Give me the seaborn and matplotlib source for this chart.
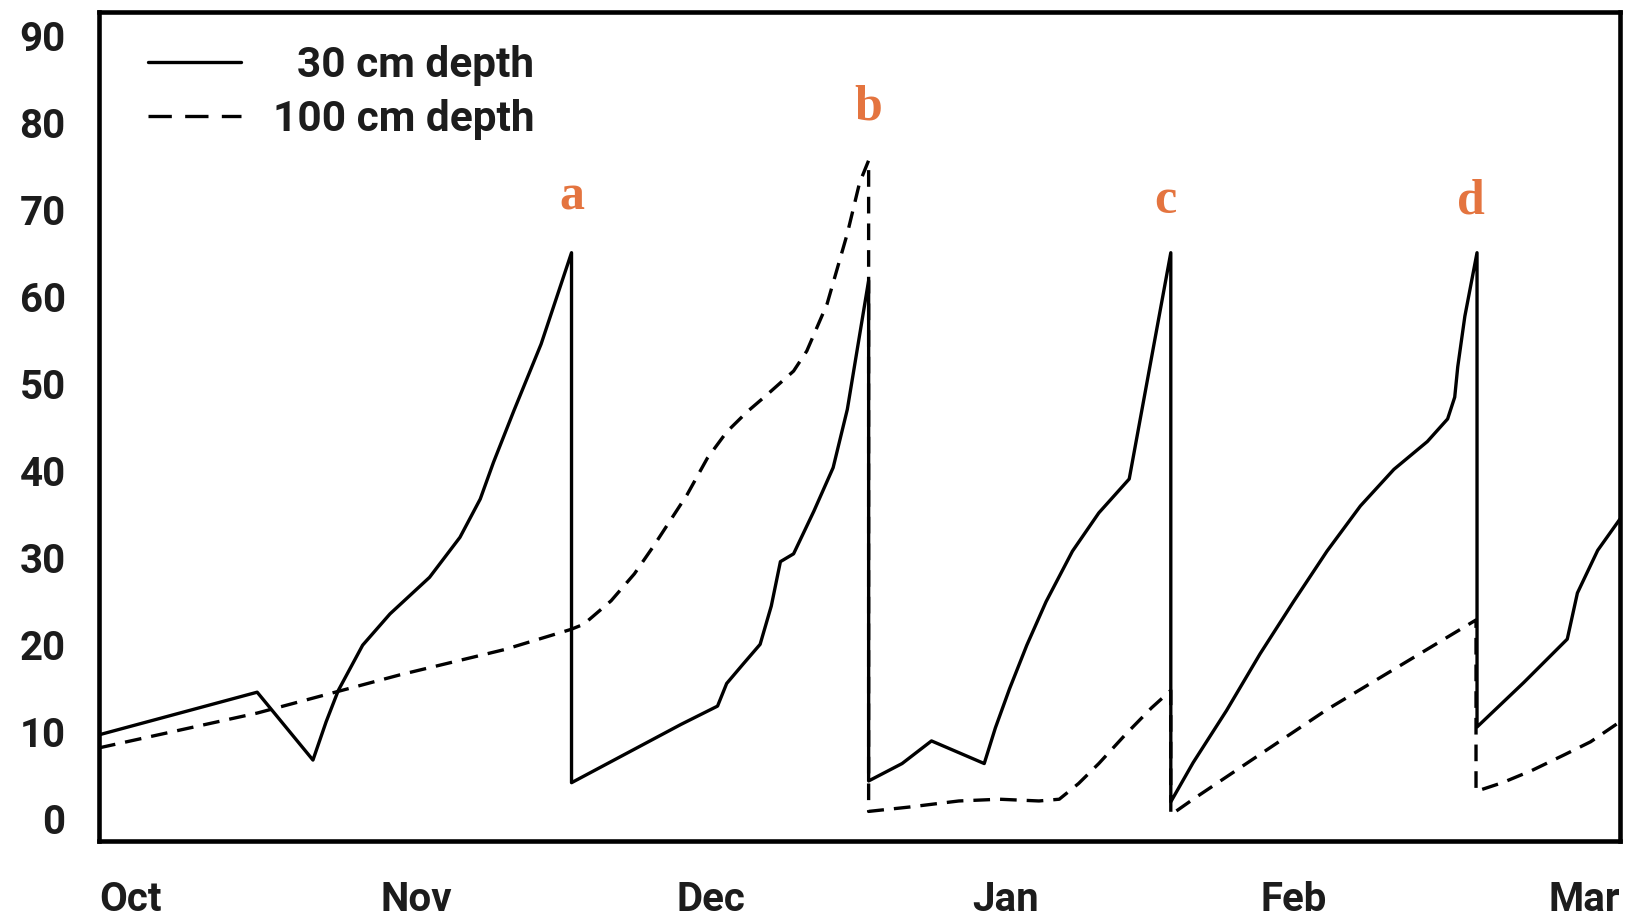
import numpy as np
import pandas as pd
import matplotlib
matplotlib.use("Agg")
import matplotlib.pyplot as plt
from matplotlib.lines import Line2D
import seaborn as sns

# ---------------- data ----------------
series_labels = ["30 cm depth", "100 cm depth"]

x_30 = [0, 15.6, 21.1, 22.4, 23.6, 26.0, 28.7, 32.6, 35.6, 37.6, 38.9, 40.9, 43.6, 46.6,
        46.6, 57.4, 61.0, 61.9, 63.5, 65.2, 66.3, 67.2, 68.5, 70.5, 72.4, 73.8, 75.9,
        75.9, 79.2, 82.1, 84.5, 87.3, 88.4, 89.8, 91.5, 93.4, 96.0, 98.6, 101.6, 105.7,
        105.7, 107.9, 111.2, 114.5, 117.8, 121.1, 124.4, 127.7, 131.0, 133.0, 133.7,
        134.0, 134.7, 135.9,
        135.9, 140.5, 144.8, 145.8, 147.8, 150]
y_30 = [9.7, 14.6, 6.8, 11.2, 14.8, 20.0, 23.6, 27.8, 32.4, 36.8, 41.0, 46.9, 54.6, 65.1,
        4.2, 10.9, 13.0, 15.6, 17.8, 20.1, 24.5, 29.6, 30.5, 35.4, 40.4, 47.1, 61.9,
        4.4, 6.4, 9.0, 7.8, 6.4, 10.5, 15.0, 20.0, 25.0, 30.8, 35.2, 39.1, 65.1,
        2.0, 6.5, 12.5, 19.0, 25.0, 30.8, 36.0, 40.2, 43.4, 46.0, 48.5,
        52.0, 57.8, 65.1,
        10.6, 15.7, 20.7, 26.0, 30.9, 34.5]

x_100 = [0, 15.6, 29.7, 40.0, 46.5, 47.8, 50.5, 52.8, 54.7, 58.0, 60.0, 61.9, 63.9,
         65.9, 68.5, 69.8, 71.8, 73.8, 75.0, 75.9,
         75.9, 79.9, 84.8, 88.8, 92.7, 94.7, 96.6, 98.6, 101.2, 103.8, 105.7,
         105.7, 107.9, 121.1, 135.8,
         135.8, 138.4, 141.3, 144.5, 147.1, 150]
y_100 = [8.2, 12.2, 16.6, 19.5, 21.8, 22.4, 25.1, 28.2, 31.4, 37.3, 41.5, 44.5, 46.8,
         48.8, 51.5, 53.8, 59.2, 67.3, 73.1, 75.7,
         0.9, 1.4, 2.1, 2.3, 2.1, 2.3, 4.1, 6.4, 9.7, 12.8, 14.8,
         0.5, 2.3, 12.6, 22.9,
         3.2, 4.2, 5.6, 7.4, 8.9, 11.2]

month_labels = ["Oct", "Nov", "Dec", "Jan", "Feb", "Mar"]
month_pos = [0, 31.3, 60.3, 89.4, 117.8, 150]
y_ticks = [0, 10, 20, 30, 40, 50, 60, 70, 80, 90]

event_labels = ["a", "b", "c", "d"]
event_x = [46.6, 75.9, 105.2, 135.3]
event_y = [71.4, 81.8, 71.0, 71.0]

# ---------------- plot ----------------
sns.set_theme(style="white")
plt.rcParams['font.family'] = ['Roboto', 'DejaVu Sans']

df = pd.concat([
    pd.DataFrame({"x": x_30, "y": y_30, "depth": series_labels[0]}),
    pd.DataFrame({"x": x_100, "y": y_100, "depth": series_labels[1]}),
], ignore_index=True)

fig = plt.figure(figsize=(16.32, 9.19), dpi=100)
ax = fig.add_axes([99 / 1632, 78 / 919, 1521 / 1632, 828.5 / 919])

sns.lineplot(data=df, x="x", y="y", style="depth",
             dashes={series_labels[0]: "", series_labels[1]: (5, 3)},
             color="black", lw=2.4, sort=False, estimator=None,
             legend=False, ax=ax)

ax.set_xlim(0, 150)
ax.set_ylim(-2.5, 92.7)
ax.set_xlabel("")
ax.set_ylabel("")

txt_col = "#1c1c1c"
ax.set_yticks(y_ticks)
ax.set_yticklabels([str(v) for v in y_ticks])
ax.set_xticks(month_pos)
ax.set_xticklabels(month_labels)
for lab in ax.get_xticklabels() + ax.get_yticklabels():
    lab.set_fontsize(29)
    lab.set_fontweight("bold")
    lab.set_color(txt_col)
xl = ax.get_xticklabels()
xl[0].set_ha("left")
xl[-1].set_ha("right")
ax.tick_params(axis="y", length=0, pad=24)
ax.tick_params(axis="x", length=0, pad=29)

for s in ax.spines.values():
    s.set_visible(True)
    s.set_color("black")
    s.set_linewidth(3.3)

for lab, ex, ey in zip(event_labels, event_x, event_y):
    ax.text(ex, ey, lab, ha="center", va="center", color="#e4743f",
            fontsize=36, family="Liberation Serif", fontweight="bold")

handles = [Line2D([], [], color="black", lw=2.4),
           Line2D([], [], color="black", lw=2.4, dashes=(7, 4))]
leg = ax.legend(handles, ["\u2007" + series_labels[0], series_labels[1]],
                loc="upper left", bbox_to_anchor=(148 / 1632, 1 - 45 / 919),
                bbox_transform=fig.transFigure, frameon=False,
                prop={"family": ["Roboto", "DejaVu Sans"], "weight": "bold", "size": 30.5},
                handlelength=2.2, handletextpad=0.76, labelspacing=0.3,
                borderpad=0, borderaxespad=0)
for t in leg.get_texts():
    t.set_color(txt_col)

fig.savefig("out.png", dpi=100)
